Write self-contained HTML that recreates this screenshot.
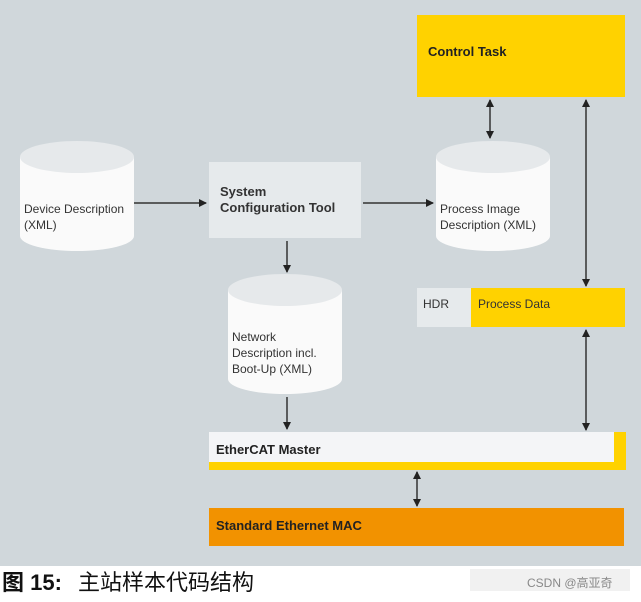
<!DOCTYPE html>
<html><head><meta charset="utf-8"><style>
body{margin:0;width:641px;height:597px;background:#fff;overflow:hidden}
svg text{font-family:"Liberation Sans","Noto Sans CJK SC",sans-serif}
</style></head><body>
<svg width="641" height="597" xmlns="http://www.w3.org/2000/svg">
<defs><marker id="a" markerWidth="8" markerHeight="8" refX="7" refY="4" orient="auto-start-reverse" markerUnits="userSpaceOnUse"><path d="M0,0 L8,4 L0,8 z" fill="#222"/></marker></defs>
<rect x="0" y="0" width="641" height="566" fill="#d0d7db"/>
<!-- control task -->
<rect x="417" y="15" width="208" height="82" fill="#ffd200"/>
<text x="428" y="56" font-size="13" font-weight="bold" fill="#222">Control Task</text>
<!-- cylinders -->
<g>
<path d="M20,157 L20,236 A57,15 0 0 0 134,236 L134,157 Z" fill="#fafafa"/>
<ellipse cx="77" cy="157" rx="57" ry="16" fill="#e6e9eb"/>
<text x="24" y="213" font-size="12" fill="#333">Device Description</text>
<text x="24" y="229" font-size="12" fill="#333">(XML)</text>
</g>
<g>
<path d="M436,157 L436,236 A57,15 0 0 0 550,236 L550,157 Z" fill="#fafafa"/>
<ellipse cx="493" cy="157" rx="57" ry="16" fill="#e6e9eb"/>
<text x="440" y="213" font-size="12" fill="#333">Process Image</text>
<text x="440" y="229" font-size="12" fill="#333">Description (XML)</text>
</g>
<g>
<path d="M228,290 L228,379 A57,15 0 0 0 342,379 L342,290 Z" fill="#fafafa"/>
<ellipse cx="285" cy="290" rx="57" ry="16" fill="#e6e9eb"/>
<text x="232" y="341" font-size="12" fill="#333">Network</text>
<text x="232" y="357" font-size="12" fill="#333">Description incl.</text>
<text x="232" y="373" font-size="12" fill="#333">Boot-Up (XML)</text>
</g>
<!-- tool -->
<rect x="209" y="162" width="152" height="76" fill="#e6eaec"/>
<text x="220" y="196" font-size="13" font-weight="bold" fill="#333">System</text>
<text x="220" y="212" font-size="13" font-weight="bold" fill="#333">Configuration Tool</text>
<!-- HDR/PD -->
<rect x="417" y="288" width="54" height="39" fill="#e6eaec"/>
<text x="423" y="308" font-size="12" fill="#333">HDR</text>
<rect x="471" y="288" width="154" height="39" fill="#ffd200"/>
<text x="478" y="308" font-size="12" fill="#333">Process Data</text>
<!-- EtherCAT -->
<rect x="209" y="432" width="417" height="38" fill="#ffd200"/>
<rect x="209" y="432" width="405" height="30" fill="#f4f5f7"/>
<text x="216" y="454" font-size="13" font-weight="bold" fill="#222">EtherCAT Master</text>
<!-- MAC -->
<rect x="209" y="508" width="415" height="38" fill="#f29200"/>
<text x="216" y="530" font-size="13" font-weight="bold" fill="#222">Standard Ethernet MAC</text>
<!-- arrows -->
<g stroke="#333" stroke-width="1.5" fill="none">
<line x1="134" y1="203" x2="206" y2="203" marker-end="url(#a)"/>
<line x1="363" y1="203" x2="433" y2="203" marker-end="url(#a)"/>
<line x1="287" y1="241" x2="287" y2="272" marker-end="url(#a)"/>
<line x1="287" y1="397" x2="287" y2="429" marker-end="url(#a)"/>
<line x1="490" y1="100" x2="490" y2="138" marker-start="url(#a)" marker-end="url(#a)"/>
<line x1="586" y1="100" x2="586" y2="286" marker-start="url(#a)" marker-end="url(#a)"/>
<line x1="586" y1="330" x2="586" y2="430" marker-start="url(#a)" marker-end="url(#a)"/>
<line x1="417" y1="472" x2="417" y2="506" marker-start="url(#a)" marker-end="url(#a)"/>
</g>
<!-- caption -->
<text x="2" y="590" font-size="22" font-weight="bold" fill="#111">图 15:</text>
<text x="78" y="590" font-size="22" fill="#111">主站样本代码结构</text>
<rect x="470" y="569" width="160" height="22" fill="#e8e8e8" opacity="0.6"/>
<text x="527" y="587" font-size="12" fill="#888">CSDN @高亚奇</text>
</svg>
</body></html>
